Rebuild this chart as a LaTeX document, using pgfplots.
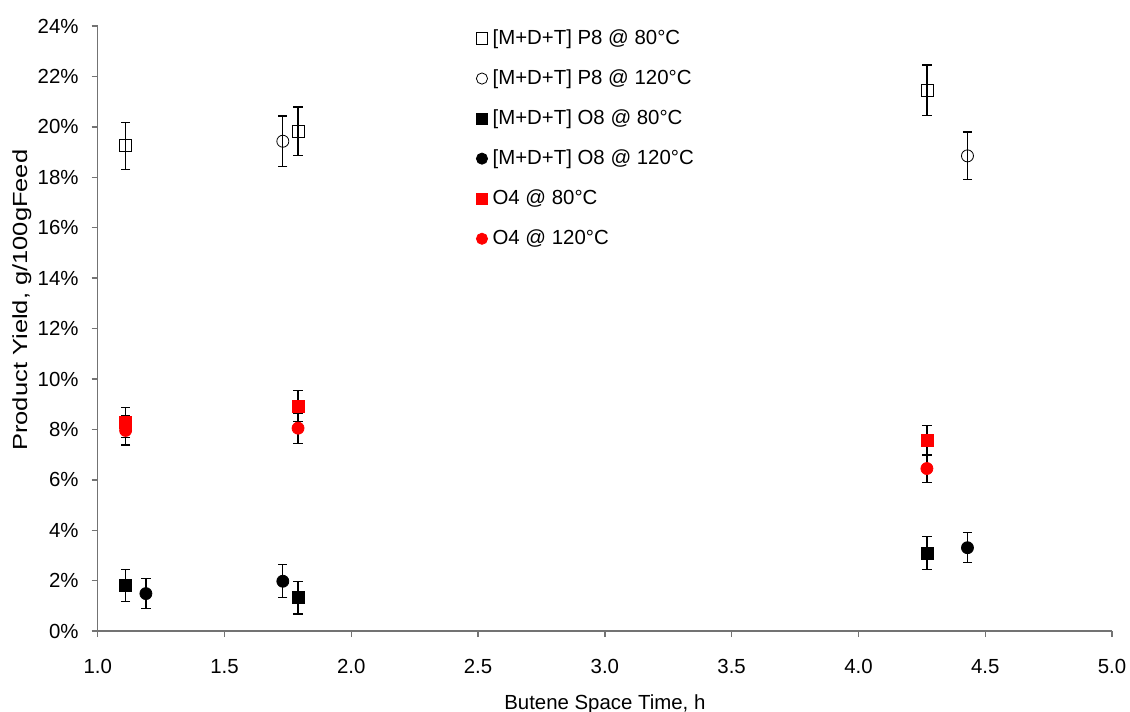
\documentclass[border=0pt]{standalone}
\usepackage{pgfplots}
\pgfplotsset{compat=1.18}
\usepackage{fontspec}
\setmainfont{Liberation Sans}
\begin{document}
\fontsize{10.2}{12}\selectfont
\begin{tikzpicture}
\begin{axis}[name=ax, scale only axis, width=507pt, height=302.5pt,
  xmin=1, xmax=5, ymin=0, ymax=24,
  xtick={1,1.5,2,2.5,3,3.5,4,4.5,5},
  ytick={0,2,4,6,8,10,12,14,16,18,20,22,24},
  axis x line*=bottom, axis y line*=left,
  axis line style={-, draw=black!55, line width=0.7pt},
  tick style={draw=black!55, line width=0.7pt},
  tick align=outside, major tick length=3pt,
  /pgf/number format/assume math mode=true,
  xticklabel style={/pgf/number format/.cd, fixed, fixed zerofill, precision=1, /tikz/.cd, yshift=-7.5pt},
  yticklabel style={xshift=-3pt},
  yticklabel={\pgfmathprintnumber{\tick}\%},
  xlabel={Butene Space Time, h},
  ylabel={\scalebox{1.25}[1]{Product Yield, g/100gFeed}},
  xlabel style={at={(axis description cs:0.5,-0.121)}, anchor=center},
  ylabel style={at={(axis description cs:-0.0747,0.547)}, anchor=center},
  legend style={at={(0.367,1.008)}, anchor=north west, draw=none, fill=none,
    row sep=7.1pt, column sep=0.5pt, font=\fontsize{10.2}{12}\selectfont},
  legend cell align=left,
  legend image post style={mark size=2.8pt},
  every axis plot/.append style={only marks, mark size=3pt,
    error bars/y dir=both, error bars/y explicit,
    error bars/error bar style={black, line width=0.6pt},
    error bars/error mark options={rotate=90, mark size=2.3pt, black, line width=0.6pt}},
]
\addplot[black, mark=square, mark options={fill=white}]
  coordinates {(1.11,19.25) +- (0,0.93) (1.79,19.82) +- (0,0.97) (4.27,21.45) +- (0,1.0)};
\addlegendentry{\relax[M+D+T] P8 @ 80°C}
\addplot[black, mark=o, mark options={fill=white}]
  coordinates {(1.73,19.43) +- (0,1.0) (4.43,18.85) +- (0,0.95)};
\addlegendentry{\relax[M+D+T] P8 @ 120°C}
\addplot[black, mark=square*]
  coordinates {(1.11,1.82) +- (0,0.63) (1.79,1.33) +- (0,0.65) (4.27,3.09) +- (0,0.65)};
\addlegendentry{\relax[M+D+T] O8 @ 80°C}
\addplot[black, mark=*]
  coordinates {(1.19,1.49) +- (0,0.6) (1.73,1.98) +- (0,0.65) (4.43,3.31) +- (0,0.6)};
\addlegendentry{\relax[M+D+T] O8 @ 120°C}
\addplot[red, mark=square*]
  coordinates {(1.11,8.28) +- (0,0.6) (1.79,8.93) +- (0,0.62) (4.27,7.56) +- (0,0.6)};
\addlegendentry{O4 @ 80°C}
\addplot[red, mark=*]
  coordinates {(1.11,7.96) +- (0,0.58) (1.79,8.05) +- (0,0.6) (4.27,6.45) +- (0,0.55)};
\addlegendentry{O4 @ 120°C}
\end{axis}
\pgfresetboundingbox
\path[use as bounding box] ([xshift=-48.85pt,yshift=-40pt]ax.south west) rectangle ([xshift=9pt,yshift=13pt]ax.north east);
\end{tikzpicture}
\end{document}
